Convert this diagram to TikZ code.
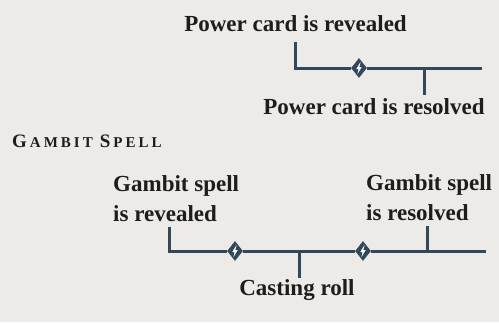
\documentclass[tikz,border=0pt]{standalone}
\usepackage{fontspec}
\setmainfont{Liberation Serif}
\usetikzlibrary{shapes.geometric}
\definecolor{paper}{HTML}{ECEBE8}
\definecolor{ink}{HTML}{1E1C1C}
\definecolor{slate}{HTML}{33475B}
\tikzset{
  lbl/.style={font=\bfseries\fontsize{23}{30}\selectfont, text=ink, inner sep=0pt, align=left},
  tl/.style={draw=slate, line width=3pt},
  gem/.style={diamond, fill=slate, draw=slate, line width=0.6pt, inner sep=0pt, minimum width=15pt, minimum height=19pt},
  bolt/.pic={\fill[white] (1.6,-6.2) -- (-2.7,1) -- (-0.4,1) -- (-1.6,6.2) -- (2.7,-1) -- (0.4,-1) -- cycle;}
}
\newcommand{\sck}{\kern3pt}
\begin{document}
\begin{tikzpicture}[x=1pt,y=-1pt]
\useasboundingbox (0,0) rectangle (499,322);
\fill[paper] (0,0) rectangle (499,322);

% ---- Power card timeline
\node[lbl, anchor=base] (prev) at (295.5,31.7) {Power card is revealed};
\node[lbl, anchor=base] (pres) at (374,114) {Power card is resolved};
\coordinate (p0) at (295,42);
\coordinate (p1) at (482,68);
\coordinate (pt0) at (424,68);
\coordinate (pt1) at (424,95);
\node[gem] (pd) at (359,68) {};
\draw[tl] (p0) |- (pd.west);
\draw[tl] (pd.east) -- (p1);
\draw[tl] (pt0) -- (pt1);
\pic at (pd) {bolt};

% ---- heading
\node[inner sep=0pt, anchor=base west, text=ink, font=\bfseries] (head) at (12,147)
 {\fontsize{19}{20}\selectfont G\sck\fontsize{15}{20}\selectfont A\sck M\sck B\sck I\sck T\kern7pt\fontsize{19}{20}\selectfont S\sck\fontsize{15}{20}\selectfont P\sck E\sck L\sck L};

% ---- Gambit timeline
\node[lbl, anchor=base west] (grev) at (113,221) {Gambit spell\\is revealed};
\node[lbl, anchor=base west] (gres) at (366,220) {Gambit spell\\is resolved};
\node[lbl, anchor=base] (cast) at (297,295.5) {Casting roll};
\coordinate (g0) at (169,227);
\coordinate (g1) at (486,251);
\coordinate (c0) at (299,251);
\coordinate (c1) at (299,278);
\coordinate (r0) at (427,226);
\coordinate (r1) at (427,251);
\node[gem] (gd1) at (235,251) {};
\node[gem] (gd2) at (363,251) {};
\draw[tl] (g0) |- (gd1.west);
\draw[tl] (gd1.east) -- (gd2.west);
\draw[tl] (gd2.east) -- (g1);
\draw[tl] (c0) -- (c1);
\draw[tl] (r0) -- (r1);
\pic at (gd1) {bolt};
\pic at (gd2) {bolt};
\end{tikzpicture}
\end{document}
